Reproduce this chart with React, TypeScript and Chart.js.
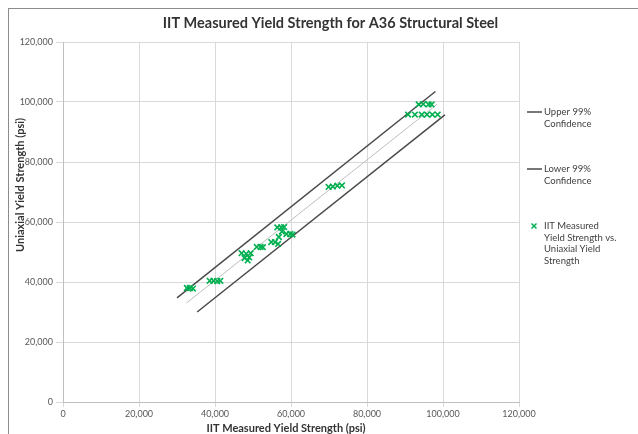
import React, { useEffect, useRef } from "react";
import { Chart, registerables } from "chart.js";

Chart.register(...registerables);

// IIT measured yield strength (x) vs uniaxial yield strength (y), psi
const measuredStrength = [
  32600, 33400, 34200,
  38600, 39600, 40600, 41400,
  47000, 48200, 49400, 47800, 49000, 48600,
  51000, 52000, 52600,
  54800, 55800, 56600,
  56400, 57400, 58200, 57600,
  58800, 59800, 60400, 56800,
  69900, 71000, 72200, 73400,
  93600, 94800, 96200, 97000,
  90800, 92600, 94400, 95800, 97200, 98600,
];
const uniaxialStrength = [
  38000, 38000, 37800,
  40400, 40400, 40300, 40400,
  49600, 49400, 49600, 48000, 48200, 47200,
  51700, 51700, 51600,
  53300, 53300, 52700,
  58200, 58200, 58300, 56800,
  56000, 56000, 55800, 55000,
  71700, 71800, 72100, 72200,
  99200, 99300, 99200, 99200,
  95800, 95800, 95800, 95800, 95800, 95800,
];

const upperX = [30000, 98000];
const upperY = [34700, 103500];
const fitX = [32500, 98500];
const fitY = [33000, 99300];
const lowerX = [35300, 100500];
const lowerY = [30000, 95700];

const tickValues = [0, 20000, 40000, 60000, 80000, 100000, 120000];

const chartTitle = "IIT Measured Yield Strength for A36 Structural Steel";
const xAxisTitle = "IIT Measured Yield Strength (psi)";
const yAxisTitle = "Uniaxial Yield Strength (psi)";
const upperLabel = ["Upper 99%", "Confidence"];
const lowerLabel = ["Lower 99%", "Confidence"];
const pointsLabel = ["IIT Measured", "Yield Strength vs.", "Uniaxial Yield", "Strength"];

const FONT = "Lato, 'Open Sans', sans-serif";
const GREEN = "#00B050";
const DARK = "#4a4a4a";

const toPoints = (xs: number[], ys: number[]) => xs.map((x, i) => ({ x, y: ys[i] }));

const annotatePlugin = {
  id: "annotate",
  afterDraw(chart: any) {
    const { ctx, chartArea } = chart;
    ctx.save();
    ctx.textAlign = "center";
    ctx.textBaseline = "middle";
    ctx.fillStyle = "#333333";
    ctx.font = `bold 14.5px ${FONT}`;
    ctx.fillText(chartTitle, chart.width / 2 - 3, 14);
    ctx.font = `bold 11px ${FONT}`;
    ctx.fillText(xAxisTitle, (chartArea.left + chartArea.right) / 2 - 5, 419);
    ctx.save();
    ctx.translate(11, 176);
    ctx.rotate(-Math.PI / 2);
    ctx.fillText(yAxisTitle, 0, 0);
    ctx.restore();

    // legend
    const lx = chartArea.right + 8;
    const tx = chartArea.right + 25;
    ctx.textAlign = "left";
    ctx.font = `9.5px ${FONT}`;
    ctx.fillStyle = "#404040";
    const drawText = (lines: string[], y0: number) => {
      lines.forEach((t, i) => ctx.fillText(t, tx, y0 + i * 11.5));
    };
    ctx.strokeStyle = DARK;
    ctx.lineWidth = 1.5;
    ctx.beginPath();
    ctx.moveTo(lx, 103);
    ctx.lineTo(lx + 15, 103);
    ctx.stroke();
    drawText(upperLabel, 103);
    ctx.beginPath();
    ctx.moveTo(lx, 160);
    ctx.lineTo(lx + 15, 160);
    ctx.stroke();
    drawText(lowerLabel, 160);
    ctx.strokeStyle = GREEN;
    ctx.lineWidth = 1.5;
    const mx = lx + 7, my = 217, r = 2.5;
    ctx.beginPath();
    ctx.moveTo(mx - r, my - r);
    ctx.lineTo(mx + r, my + r);
    ctx.moveTo(mx - r, my + r);
    ctx.lineTo(mx + r, my - r);
    ctx.stroke();
    drawText(pointsLabel, 217);
    ctx.restore();
  },
};

export default function App() {
  const canvasRef = useRef<HTMLCanvasElement | null>(null);

  useEffect(() => {
    if (!canvasRef.current) return;
    const chart = new Chart(canvasRef.current, {
      type: "scatter",
      data: {
        datasets: [
          {
            label: "IIT Measured Yield Strength vs. Uniaxial Yield Strength",
            data: toPoints(measuredStrength, uniaxialStrength),
            pointStyle: "crossRot",
            pointRadius: 4,
            pointBorderWidth: 1.6,
            borderColor: GREEN,
            backgroundColor: GREEN,
            showLine: false,
          },
          {
            label: "Upper 99% Confidence",
            data: toPoints(upperX, upperY),
            showLine: true,
            borderColor: DARK,
            borderWidth: 1.5,
            pointRadius: 0,
          },
          {
            label: "Fit",
            data: toPoints(fitX, fitY),
            showLine: true,
            borderColor: "#bdbdbd",
            borderWidth: 1,
            pointRadius: 0,
          },
          {
            label: "Lower 99% Confidence",
            data: toPoints(lowerX, lowerY),
            showLine: true,
            borderColor: DARK,
            borderWidth: 1.5,
            pointRadius: 0,
          },
        ],
      },
      options: {
        animation: false,
        responsive: false,
        maintainAspectRatio: false,
        layout: { padding: { top: 33, right: 139, bottom: 0, left: 0 } },
        plugins: {
          legend: { display: false },
          title: { display: false },
          tooltip: { enabled: false },
        },
        scales: {
          x: {
            type: "linear",
            min: 0,
            max: 120000,
            afterFit: (scale: any) => {
              scale.height = 46;
            },
            afterBuildTicks: (scale: any) => {
              scale.ticks = tickValues.map((value) => ({ value }));
            },
            ticks: {
              font: { family: FONT, size: 9 },
              color: "#595959",
              padding: 2,
              maxRotation: 0,
              callback: (v: any) => Number(v).toLocaleString("en-US"),
            },
            grid: { color: "#d9d9d9", tickLength: 5, lineWidth: 1 },
            border: { color: "#bfbfbf" },
          },
          y: {
            type: "linear",
            min: 0,
            max: 120000,
            afterFit: (scale: any) => {
              scale.width = 54;
            },
            afterBuildTicks: (scale: any) => {
              scale.ticks = tickValues.map((value) => ({ value }));
            },
            ticks: {
              font: { family: FONT, size: 9 },
              color: "#595959",
              padding: 3,
              callback: (v: any) => Number(v).toLocaleString("en-US"),
            },
            grid: { color: "#d9d9d9", tickLength: 7, lineWidth: 1 },
            border: { color: "#bfbfbf" },
          },
        },
      },
      plugins: [annotatePlugin],
    });
    return () => chart.destroy();
  }, []);

  return (
    <div
      style={{
        position: "fixed",
        left: 8,
        top: 8,
        width: 650,
        height: 440,
        borderLeft: "1px solid #8c8c8c",
        borderTop: "1px solid #8c8c8c",
        background: "#ffffff",
        overflow: "hidden",
      }}
    >
      <canvas
        ref={canvasRef}
        width={649}
        height={439}
        style={{ position: "absolute", left: 0, top: 0, width: 649, height: 439 }}
      />
    </div>
  );
}
